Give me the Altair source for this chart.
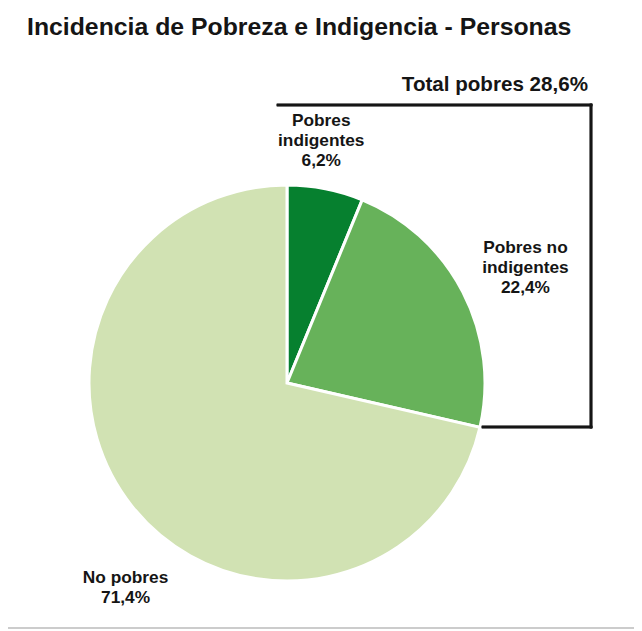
import math

import altair as alt
import pandas as pd

# data
categories = ["Pobres indigentes", "Pobres no indigentes", "No pobres"]
label_lines = ["Pobres\nindigentes", "Pobres no\nindigentes", "No pobres"]
values = [6.2, 22.4, 71.4]
colors = ["#06802f", "#67b25a", "#d1e2b3"]

title_text = "Incidencia de Pobreza e Indigencia - Personas"
total_pobres = round(values[0] + values[1], 1)


def pct(v):
    return f"{v:.1f}".replace(".", ",") + "%"


df = pd.DataFrame({
    "categoria": categories,
    "valor": values,
    "orden": list(range(len(values))),
    "texto": [f"{l}\n{pct(v)}" for l, v in zip(label_lines, values)],
})

CX, CY, R = 279, 375, 198
FONT = "Liberation Sans"
INK = "#151515"
LH = 20

theta_scale = alt.Scale(domain=[0, 100], range=[0, 2 * math.pi])

base = alt.Chart(df).transform_window(
    fin="sum(valor)", sort=[alt.SortField("orden")]
).transform_calculate(
    ini="datum.fin - datum.valor",
    mid="datum.fin - datum.valor / 2",
)

pie = base.mark_arc(outerRadius=R, stroke="white", strokeWidth=3).encode(
    theta=alt.Theta("ini:Q", scale=theta_scale),
    theta2="fin:Q",
    color=alt.Color("categoria:N", scale=alt.Scale(domain=categories, range=colors), legend=None),
    x=alt.value(CX),
    y=alt.value(CY),
)

# per-label placement around the slice mid-angle (dy also lifts multi-line blocks)
label_style = {
    "Pobres indigentes": dict(radius=244, dx=-13, dy=-3 - LH),
    "Pobres no indigentes": dict(radius=264, dx=4, dy=6 - LH),
    "No pobres": dict(radius=260, dx=42, dy=43 - LH / 2),
}
labels = []
for cat, st in label_style.items():
    labels.append(
        base.transform_filter(alt.datum.categoria == cat)
        .mark_text(
            font=FONT, fontSize=17.3, fontWeight="bold", color=INK,
            align="center", baseline="middle", lineBreak="\n", lineHeight=LH, **st
        )
        .encode(
            theta=alt.Theta("mid:Q", scale=theta_scale),
            text="texto:N",
            x=alt.value(CX),
            y=alt.value(CY),
        )
    )

# bracket around the poor share
bracket = [
    dict(x=270, x2=583, y=97, y2=97),
    dict(x=583, x2=583, y=97, y2=419),
    dict(x=475, x2=583, y=419, y2=419),
]
rules = [
    alt.Chart(df).mark_rule(color=INK, strokeWidth=2.5, strokeCap="square").encode(
        x=alt.value(b["x"]), x2=alt.value(b["x2"]), y=alt.value(b["y"]), y2=alt.value(b["y2"])
    )
    for b in bracket
]

total = alt.Chart(pd.DataFrame({"t": [f"Total pobres {pct(total_pobres)}"]})).mark_text(
    font=FONT, fontSize=20.6, fontWeight="bold", color=INK, align="right", baseline="alphabetic"
).encode(text="t:N", x=alt.value(580), y=alt.value(83))

title = alt.Chart(pd.DataFrame({"t": [title_text]})).mark_text(
    font=FONT, fontSize=24.8, fontWeight="bold", color=INK, align="left", baseline="alphabetic"
).encode(text="t:N", x=alt.value(19), y=alt.value(27))

bottom_line = alt.Chart(df).mark_rule(color="#cccccc", strokeWidth=2).encode(
    x=alt.value(0), x2=alt.value(626), y=alt.value(620)
)

chart = alt.layer(pie, *labels, *rules, total, title, bottom_line).properties(
    width=626, height=622, padding=0, autosize="none"
).configure_view(stroke=None)

chart.save("out.html", embed_options={"renderer": "svg", "actions": False})
